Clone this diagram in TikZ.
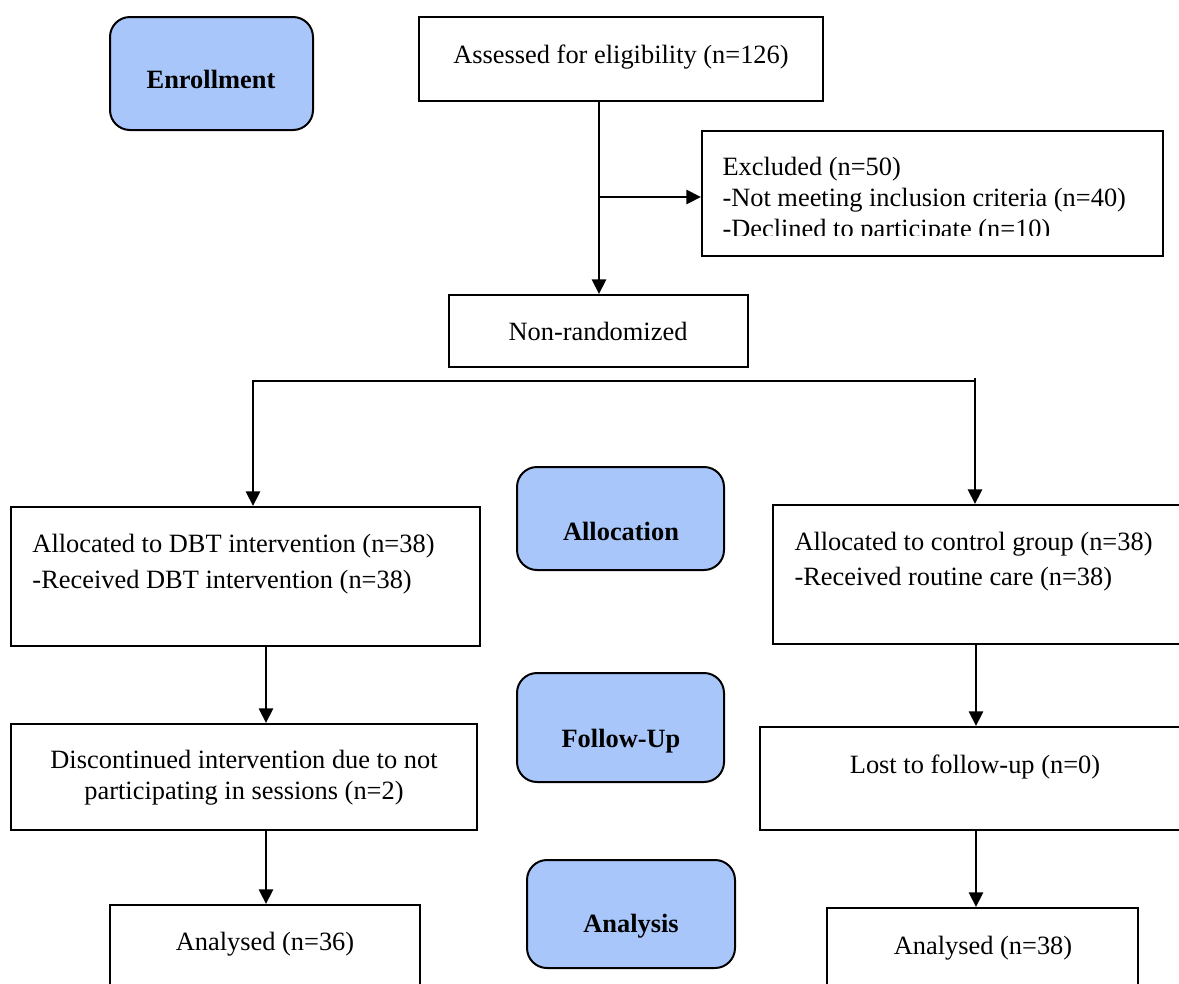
\documentclass[tikz,border=0pt]{standalone}
\usepackage{fontspec}
\setmainfont{Liberation Serif}
\usetikzlibrary{arrows.meta,fit}
\definecolor{stageblue}{RGB}{168,198,250}
\tikzset{every picture/.style={line width=0.75pt}}
\tikzset{
  box/.style={draw, line width=1.5pt, inner sep=0pt},
  stage/.style={box, fill=stageblue, rounded corners=15pt},
  txt/.style={inner sep=0pt, font=\fontsize{19.8}{24}\selectfont},
  stagetxt/.style={inner sep=0pt, font=\fontsize{19.8}{24}\selectfont\bfseries},
  arr/.style={line width=2.2pt, -{Triangle[length=11pt,width=10.5pt]}},
}

\begin{document}
\begin{tikzpicture}[x=0.75pt,y=0.75pt,yscale=-1,xscale=1]
\useasboundingbox (0,0) rectangle (1179,983);
\clip (0,0) rectangle (1179,983);

%Stage boxes
\node [stage, fit={(110,17) (313,130)}] (enroll) {};
\node [stage, fit={(517,467) (724,570)}] (alloc) {};
\node [stage, fit={(517,673) (724,782)}] (follow) {};
\node [stage, fit={(527,860) (735,968)}] (analysis) {};

%Flow boxes
\node [box, fit={(419,17) (823,101)}] (assessed) {};
\node [box, fit={(702,131) (1163,256)}] (excluded) {};
\node [box, fit={(449,295) (748,367)}] (nonrand) {};
\node [box, fit={(11,507) (480,646)}] (dbt) {};
\node [box, fit={(773,505) (1200,644)}] (ctrl) {};
\node [box, fit={(11,724) (477,830)}] (disc) {};
\node [box, fit={(760,727) (1200,830)}] (lost) {};
\node [box, fit={(110,905) (420,1010)}] (anL) {};
\node [box, fit={(827,908) (1138,1010)}] (anR) {};

%Connectors
\coordinate (trunk) at (599,197);
\draw [arr] (trunk |- assessed.south) -- (trunk |- nonrand.north);
\draw [arr] (trunk) -- (trunk -| excluded.west);
\coordinate (splitL) at (253,381);
\coordinate (splitR) at (975,381);
\coordinate (splitRtop) at (975,378);
\draw [arr] (splitR) -- (splitL) -- (splitL |- dbt.north);
\draw [arr] (splitRtop) -- (splitR |- ctrl.north);
\coordinate (colL) at (266,0);
\coordinate (colR) at (976,0);
\draw [arr] (colL |- dbt.south) -- (colL |- disc.north);
\draw [arr] (colL |- disc.south) -- (colL |- anL.north);
\draw [arr] (colR |- ctrl.south) -- (colR |- lost.north);
\draw [arr] (colR |- lost.south) -- (colR |- anR.north);

% Text Node
\node [stagetxt, anchor=base] (enrolltxt) at (211,88) {Enrollment};
\node [stagetxt, anchor=base] (alloctxt) at (621,540) {Allocation};
\node [stagetxt, anchor=base] (followtxt) at (621,747) {Follow-Up};
\node [stagetxt, anchor=base] (analysistxt) at (631,932) {Analysis};

% Text Node
\node [txt, anchor=base] (assessedtxt) at (621,63) {Assessed for eligibility (n=126)};
\begin{scope}
\clip (702,131) rectangle (1163,235);
\node [txt, anchor=base west] (excl1) at (722,175) {Excluded (n=50)};
\node [txt, anchor=base west] (excl2) at (722,206) {-Not meeting inclusion criteria (n=40)};
\node [txt, anchor=base west] (excl3) at (722,237) {-Declined to participate (n=10)};
\end{scope}
\node [txt, anchor=base] (nonrandtxt) at (598,340) {Non-randomized};

% Text Node
\node [txt, anchor=base west] (dbt1) at (32,552) {Allocated to DBT intervention (n=38)};
\node [txt, anchor=base west] (dbt2) at (32,588) {-Received DBT intervention (n=38)};
\node [txt, anchor=base west] (ctrl1) at (794,550) {Allocated to control group (n=38)};
\node [txt, anchor=base west] (ctrl2) at (794,585) {-Received routine care (n=38)};

% Text Node
\node [txt, anchor=base] (disc1) at (244,768) {Discontinued intervention due to not};
\node [txt, anchor=base] (disc2) at (244,799) {participating in sessions (n=2)};
\node [txt, anchor=base] (losttxt) at (975,773) {Lost to follow-up (n=0)};
\node [txt, anchor=base] (anLtxt) at (265,950) {Analysed (n=36)};
\node [txt, anchor=base] (anRtxt) at (983,954) {Analysed (n=38)};

\end{tikzpicture}
\end{document}
